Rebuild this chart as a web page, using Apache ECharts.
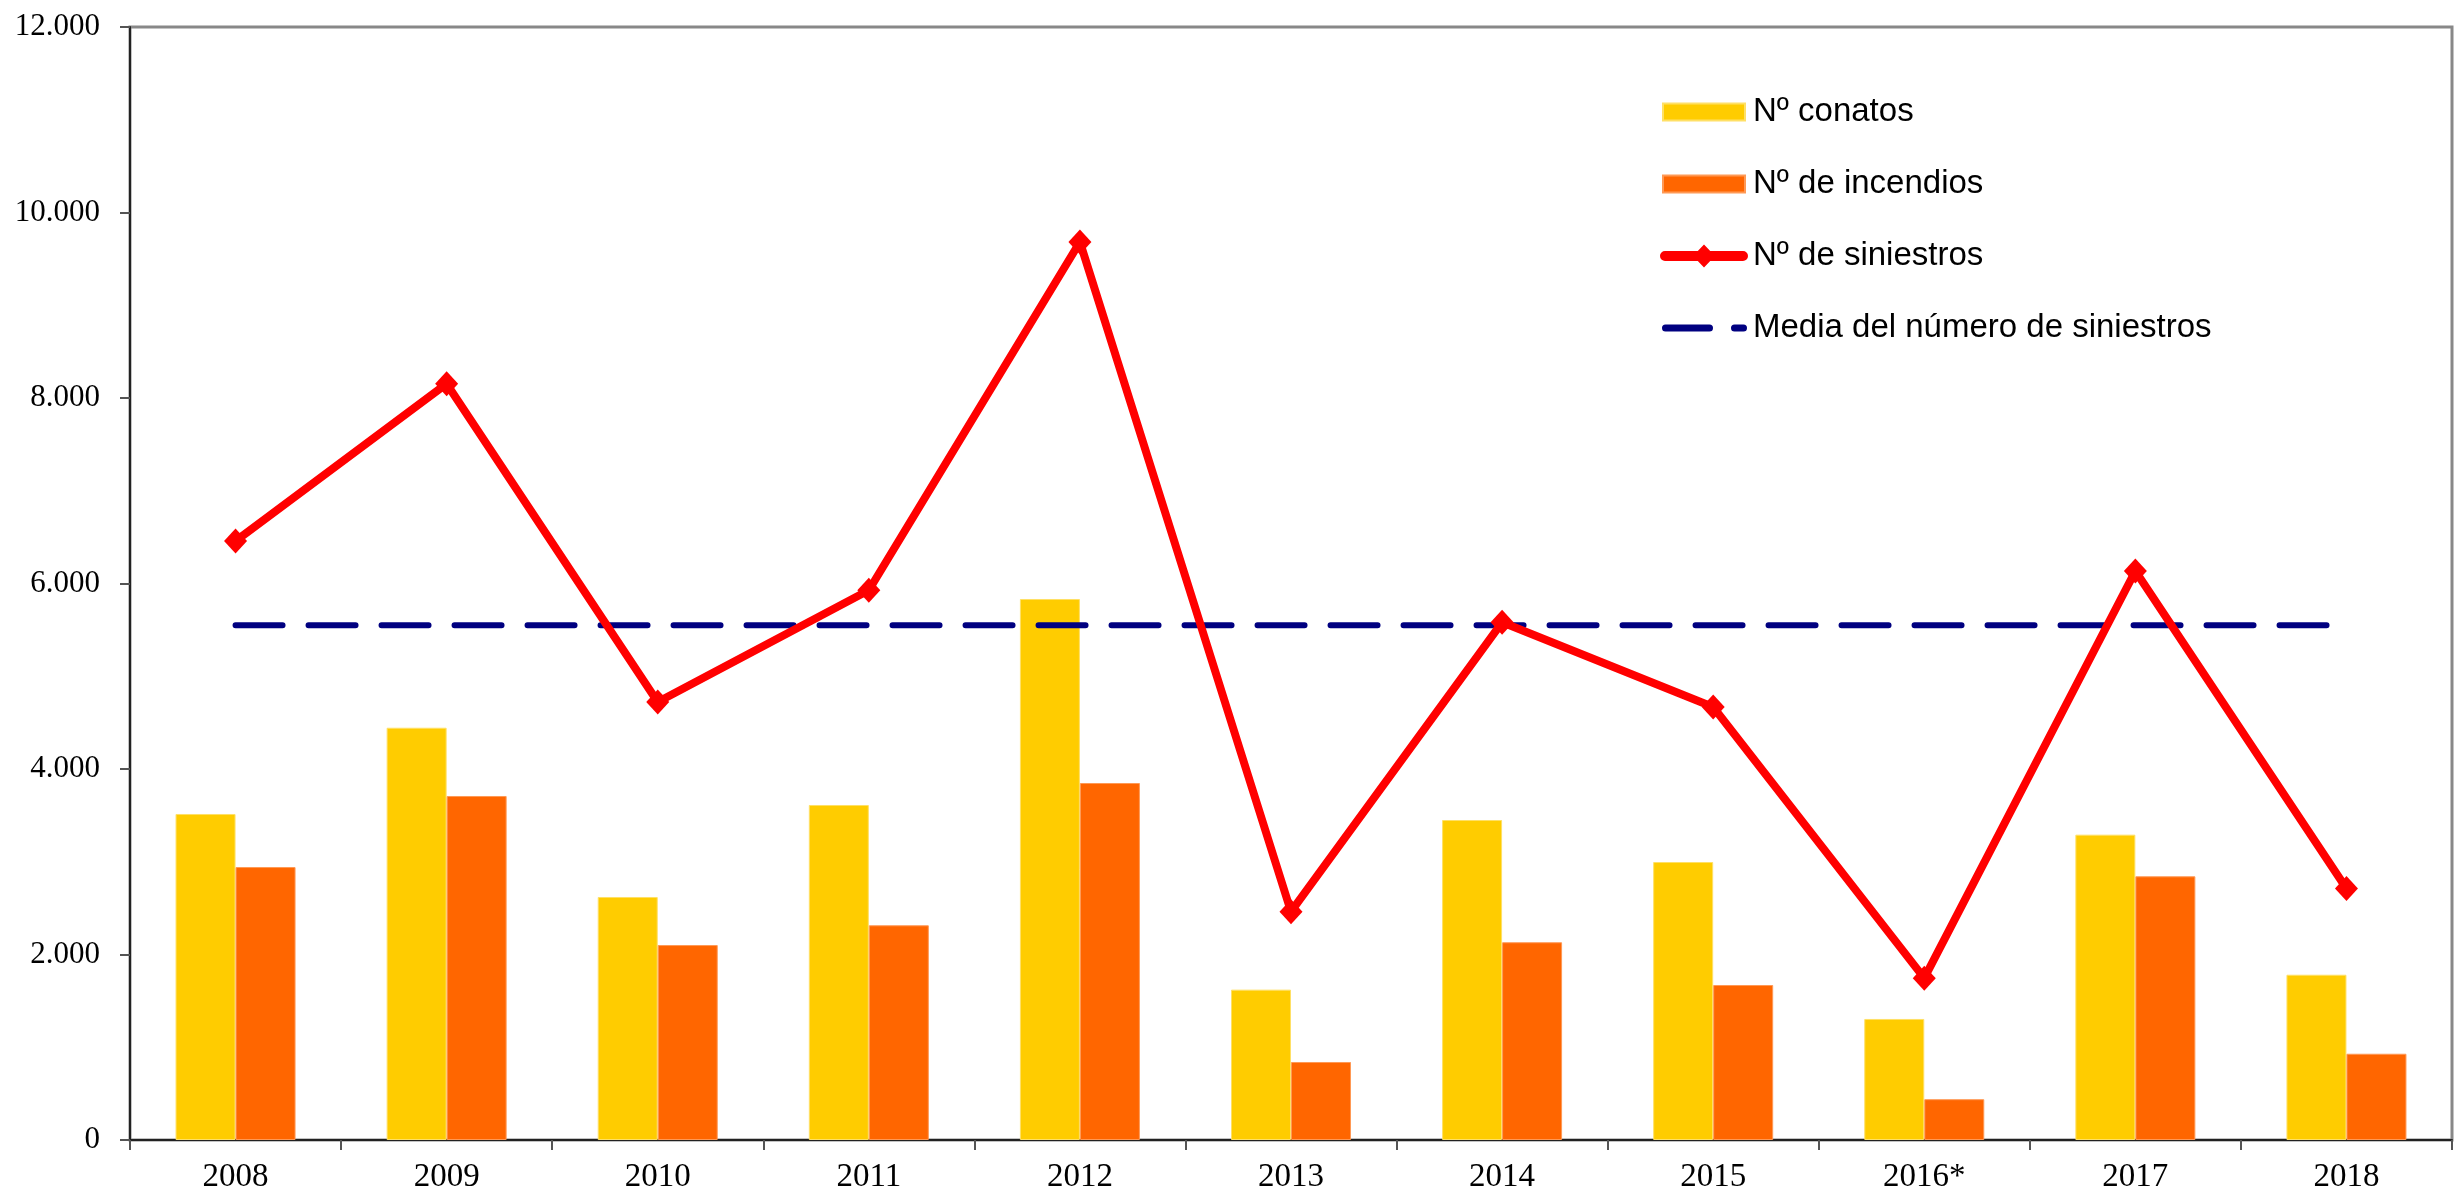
<!DOCTYPE html>
<html>
<head>
<meta charset="utf-8">
<script src="https://cdn.jsdelivr.net/npm/echarts@6/dist/echarts.min.js"></script>
<style>html,body{margin:0;padding:0;background:#fff;}#c{width:2454px;height:1201px;}</style>
</head>
<body>
<div id="c"></div>
<script>
const categories = ['2008','2009','2010','2011','2012','2013','2014','2015','2016*','2017','2018'];
const conatos = [3515, 4445, 2620, 3612, 5833, 1621, 3450, 2997, 1305, 3292, 1782];
const incendios = [2943, 3709, 2102, 2315, 3849, 841, 2132, 1671, 440, 2843, 930];
const siniestros = [6458, 8154, 4722, 5927, 9682, 2462, 5582, 4668, 1745, 6135, 2712];
const mediaValue = 5550;
const media = categories.map(() => mediaValue);

const chart = echarts.init(document.getElementById('c'), null, {renderer: 'canvas'});
const serif = "'Liberation Serif', 'DejaVu Serif', serif";
const sans = "'Liberation Sans', Arial, sans-serif";
const anchor = ' M0,0 M88,23';
const barIcon = 'path://M3,3 H85 V20 H3 Z' + anchor;
const redIcon = 'path://M5,6.5 H37.8 L44,0 L50.2,6.5 H83 A5,5 0 0 1 83,16.5 H50.2 L44,23 L37.8,16.5 H5 A5,5 0 0 1 5,6.5 Z' + anchor;
const dashIcon = 'path://M5.5,8 H49.5 A3.5,3.5 0 0 1 49.5,15 H5.5 A3.5,3.5 0 0 1 5.5,8 Z M74.5,8 H83.5 A3.5,3.5 0 0 1 83.5,15 H74.5 A3.5,3.5 0 0 1 74.5,8 Z' + anchor;
chart.setOption({
  animation: false,
  backgroundColor: '#fff',
  grid: {left: 130, right: 2, top: 27, bottom: 61, show: true, borderColor: '#888', borderWidth: 3, backgroundColor: 'transparent'},
  legend: {
    orient: 'vertical', left: 1654, top: 87,
    itemWidth: 88, itemHeight: 23, itemGap: 32, symbolKeepAspect: false,
    textStyle: {fontFamily: sans, fontSize: 33, lineHeight: 40, color: '#000'},
    data: [
      {name: 'Nº conatos', icon: barIcon, itemStyle: {color: '#FFCC00'}},
      {name: 'Nº de incendios', icon: barIcon, itemStyle: {color: '#FF6600'}},
      {name: 'Nº de siniestros', icon: redIcon, itemStyle: {color: '#FF0000'}},
      {name: 'Media del número de siniestros', icon: dashIcon, itemStyle: {color: '#000080'}}
    ]
  },
  xAxis: {
    type: 'category', data: categories,
    axisLine: {lineStyle: {color: '#222', width: 2}},
    axisTick: {show: true, alignWithLabel: false, length: 10, lineStyle: {color: '#555', width: 2}},
    axisLabel: {fontFamily: serif, fontSize: 33, color: '#000', margin: 21}
  },
  yAxis: {
    type: 'value', min: 0, max: 12000, interval: 2000,
    axisLine: {show: true, lineStyle: {color: '#222', width: 2}},
    axisTick: {show: true, length: 10, lineStyle: {color: '#555', width: 2}},
    splitLine: {show: false},
    axisLabel: {fontFamily: serif, fontSize: 31, color: '#000', margin: 30,
      formatter: v => v === 0 ? '0' : String(v).replace(/\B(?=(\d{3})+(?!\d))/g, '.')}
  },
  series: [
    {name: 'Nº conatos', type: 'bar', data: conatos, barWidth: 60, barGap: '0%',
     itemStyle: {color: '#FFCC00', borderColor: '#FFE066', borderWidth: 1}},
    {name: 'Nº de incendios', type: 'bar', data: incendios, barWidth: 60, barGap: '0%',
     itemStyle: {color: '#FF6600', borderColor: '#FF9955', borderWidth: 1}},
    {name: 'Nº de siniestros', type: 'line', data: siniestros, symbol: 'diamond', symbolSize: [23, 25],
     lineStyle: {color: '#FF0000', width: 8}, itemStyle: {color: '#FF0000'}, z: 5},
    {name: 'Media del número de siniestros', type: 'line', data: media, symbol: 'none',
     lineStyle: {color: '#000080', width: 6, type: [47, 26], cap: 'round'}, itemStyle: {color: '#000080'}, z: 4}
  ]
});
</script>
</body>
</html>
